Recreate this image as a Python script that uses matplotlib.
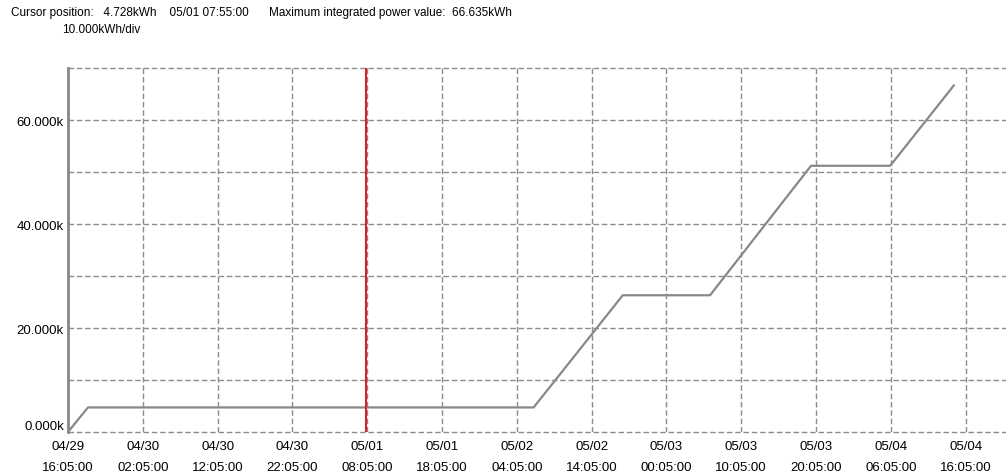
import matplotlib.pyplot as plt
import matplotlib.dates as mdates
from datetime import datetime, timedelta

plt.rcParams['font.family'] = ['Liberation Sans', 'DejaVu Sans']

# integrated power (kWh) at breakpoints
times = ["2010-04-29 16:05", "2010-04-29 18:45", "2010-05-02 06:20", "2010-05-02 18:15",
         "2010-05-03 05:55", "2010-05-03 19:25", "2010-05-04 06:00", "2010-05-04 14:30"]
values = [0.0, 4.728, 4.728, 26.3, 26.3, 51.2, 51.2, 66.635]
cursor_time = "2010-05-01 07:55"
tick_start = "2010-04-29 16:05"
n_ticks = 13

t = [datetime.strptime(s, "%Y-%m-%d %H:%M") for s in times]
t0 = datetime.strptime(tick_start, "%Y-%m-%d %H:%M")
xticks = [t0 + timedelta(hours=10 * i) for i in range(n_ticks)]

fig = plt.figure(figsize=(10.06, 4.77), dpi=100)
ax = fig.add_axes([0.0676, 0.0922, 0.9324, 0.7631])

grid_kw = dict(color='#8c8c8c', lw=1, ls=(0, (4, 2)))
ax.plot(t, [v * 1000 for v in values], color='#888888', lw=1.6, zorder=3)
ax.axvline(datetime.strptime(cursor_time, "%Y-%m-%d %H:%M"), color='#e02020', lw=1.5, zorder=4)

ax.set_xlim(t0, t0 + timedelta(hours=125.4))
ax.set_ylim(0, 70000)
ax.set_xticks(xticks)
ax.xaxis.set_major_formatter(mdates.DateFormatter("%m/%d\n%H:%M:%S"))
ax.set_yticks([0, 20000, 40000, 60000])
ax.set_yticklabels(["0.000k", "20.000k", "40.000k", "60.000k"])
ax.grid(True, axis='x', **grid_kw)
for yv in range(0, 70001, 10000):
    ax.axhline(yv, clip_on=False, zorder=1, **grid_kw)

for s in ['top', 'right', 'bottom']:
    ax.spines[s].set_visible(False)
ax.spines['left'].set_color('#888888')
ax.spines['left'].set_linewidth(2)
ax.tick_params(axis='x', length=0, pad=6, labelsize=9.5)
ax.tick_params(axis='y', which='both', length=0, pad=3, labelsize=9.5)
for lab in ax.get_xticklabels():
    lab.set_linespacing(2.0)
ax.yaxis.get_major_ticks()[0].label1.set_va('bottom')

fig.text(0.011, 0.985, "Cursor position:   4.728kWh    05/01 07:55:00", fontsize=8.5, va='top')
fig.text(0.267, 0.985, "Maximum integrated power value:  66.635kWh", fontsize=8.5, va='top')
fig.text(0.062, 0.949, "10.000kWh/div", fontsize=8.5, va='top')

fig.savefig("out.png", dpi=100)
